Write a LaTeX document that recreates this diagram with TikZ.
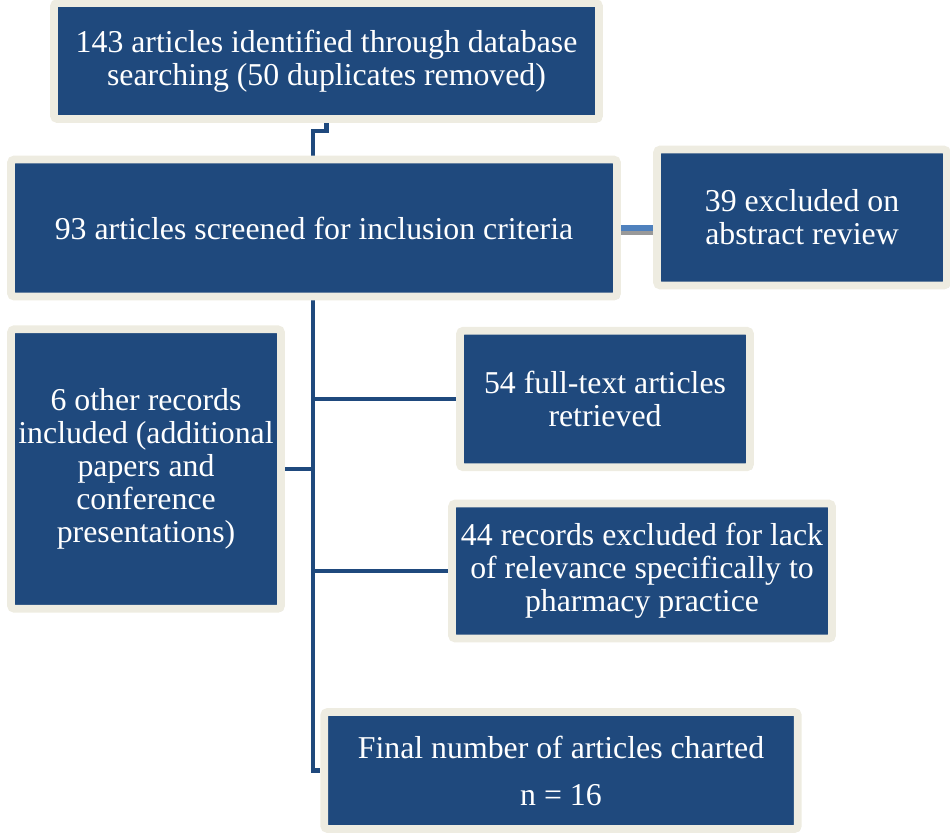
\documentclass[tikz,border=0pt]{standalone}
\usepackage{fontspec}
\setmainfont{Liberation Serif}
\usetikzlibrary{positioning,shadows,backgrounds,calc}
\definecolor{boxblue}{RGB}{31,73,125}
\definecolor{boxrim}{RGB}{238,236,225}
\definecolor{sidelink}{RGB}{79,129,189}

\begin{document}
\begin{tikzpicture}[x=0.02cm,y=-0.02cm,
  stage/.style={rectangle,draw=boxrim,line width=4.5pt,fill=boxblue,rounded corners=2pt,
    text=white,align=center,inner sep=0pt,minimum width=#1*0.02cm,
    font=\fontsize{18.1}{18.7}\selectfont,
    drop shadow={shadow xshift=1.6pt,shadow yshift=-1.6pt,opacity=0.35,fill=black!60}},
  link/.style={draw=boxblue,line width=2.6pt},
  sidewire/.style={draw=sidelink,line width=3pt},
]
\useasboundingbox (0,0) rectangle (950,835);

% Top: identification
\node[stage=545,minimum height=116*0.02cm] (b143) at (326.5,61) {143 articles identified through database\\searching (50 duplicates removed)};

% Screening and abstract exclusion
\node[stage=606,minimum height=137*0.02cm] (b93) at (314,228) {93 articles screened for inclusion criteria};
\node[stage=290,minimum height=136*0.02cm] (b39) at (802,217.5) {39 excluded on\\abstract review};

% Branches off the spine
\node[stage=270,minimum height=279.5*0.02cm] (b6) at (146,469) {6 other records\\included (additional\\papers and\\conference\\presentations)};
\node[stage=290,minimum height=136.5*0.02cm] (b54) at (605,399) {54 full-text articles\\retrieved};
\node[stage=380,minimum height=135*0.02cm] (b44) at (642,571) {44 records excluded for lack\\of relevance specifically to\\pharmacy practice};

% Bottom: result
\node[stage=473.5,minimum height=117*0.02cm] (bfinal) at (561,770.5) {Final number of articles charted\\[8pt]n = 16};

\coordinate (spine) at (313,300);

% Connectors
\begin{scope}[on background layer]
\draw[link] (b143.south) -- ++(0,8) -| (b93.north -| spine);
\draw[link] (b93.south -| spine) |- (bfinal.west);
\draw[link] (b54.west) -- (b54.west -| spine);
\draw[link] (b44.west) -- (b44.west -| spine);
\draw[link] (b6.east) -- (b6.east -| spine);
\draw[draw=black!40,line width=3pt] ([yshift=-2.5pt]b93.east) -- ([yshift=-2.5pt]b93.east -| b39.west);
\draw[sidewire] (b93.east) -- (b93.east -| b39.west);
\end{scope}
\end{tikzpicture}
\end{document}
